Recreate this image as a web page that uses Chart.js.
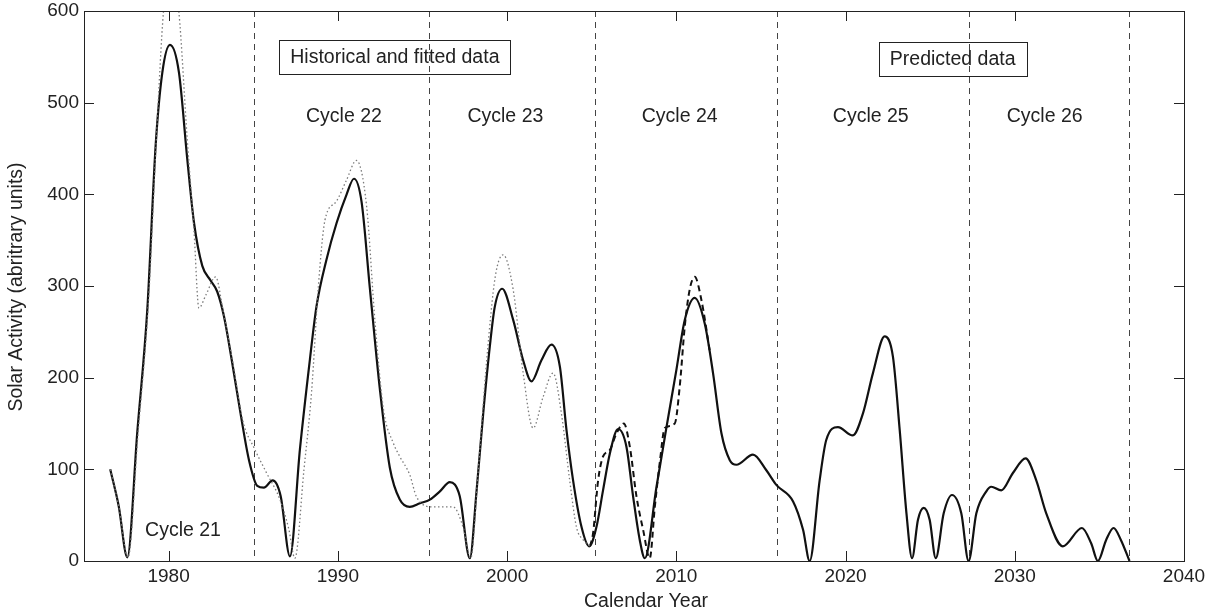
<!DOCTYPE html>
<html>
<head>
<meta charset="utf-8">
<script src="https://cdn.jsdelivr.net/npm/chart.js@4.4.0/dist/chart.umd.min.js"></script>
<style>
  html, body { margin: 0; padding: 0; background: #fff; }
  #wrap { width: 1209px; height: 612px; }
</style>
</head>
<body>
<div id="wrap"><canvas id="grafico" width="1209" height="612"></canvas></div>
<script>
// curva ajustada / predicha (linea continua)
const anioAjuste = [1976.55, 1977.05, 1977.56, 1978.15, 1978.74, 1979.24, 1979.63, 1980.08, 1980.61, 1981.1,
  1981.5, 1981.99, 1982.48, 1982.87, 1983.27, 1983.76, 1984.25, 1984.75, 1985.24, 1985.63,
  1986.15, 1986.62, 1987.17, 1987.76, 1988.35, 1988.74, 1989.33, 1989.93, 1990.52, 1990.95,
  1991.4, 1991.89, 1992.48, 1993.07, 1993.66, 1994.25, 1994.85, 1995.44, 1996.03, 1996.62,
  1997.2, 1997.8, 1998.2, 1998.59, 1998.98, 1999.27, 1999.71, 2000.36, 2000.95, 2001.44,
  2002.03, 2002.62, 2003.12, 2003.51, 2003.9, 2004.4, 2004.85, 2005.28, 2005.67, 2006.07,
  2006.56, 2007.05, 2007.45, 2007.84, 2008.14, 2008.83, 2009.42, 2010.0, 2010.5, 2011.09,
  2011.68, 2012.17, 2012.67, 2013.16, 2013.55, 2014.53, 2015.32, 2015.91, 2016.9, 2017.49,
  2017.88, 2018.47, 2018.86, 2019.55, 2020.43, 2021.03, 2021.62, 2022.31, 2022.8, 2023.2,
  2023.6, 2023.93, 2024.28, 2024.62, 2024.97, 2025.33, 2025.8, 2026.29, 2026.84, 2027.27,
  2027.73, 2028.32, 2028.61, 2029.2, 2029.89, 2030.64, 2031.27, 2031.86, 2032.84, 2033.97,
  2034.52, 2034.91, 2035.4, 2035.84, 2036.27, 2036.78];
const valorAjuste = [100, 60, 4, 141, 274, 455, 533, 563, 533, 439,
  369, 322, 306, 294, 267, 216, 161, 110, 82, 80,
  88, 71, 5, 122, 220, 278, 329, 369, 400, 417,
  392, 298, 188, 102, 67, 59, 63, 67, 76, 86,
  71, 3, 77, 161, 234, 277, 297, 263, 219, 196,
  219, 236, 212, 143, 88, 37, 16, 37, 77, 117,
  144, 125, 70, 23, 3, 81, 146, 208, 263, 287,
  259, 205, 139, 110, 105, 116, 99, 83, 65, 34,
  0, 88, 132, 146, 137, 161, 205, 245, 223, 143,
  52, 3, 45, 58, 45, 3, 52, 72, 52, 0,
  52, 76, 81, 77, 96, 112, 88, 52, 16, 36,
  19, 0, 23, 36, 23, 0];

// datos historicos (linea punteada)
const anioHistorico = [1976.55, 1977.05, 1977.6, 1978.2, 1978.8, 1979.3, 1979.7, 1980.1, 1980.6, 1981.1,
  1981.5, 1981.79, 1982.2, 1982.78, 1983.2, 1983.76, 1984.4, 1985.06, 1985.79, 1986.58,
  1987.1, 1987.46, 1988.0, 1988.45, 1988.85, 1989.24, 1989.9, 1990.5, 1991.1, 1991.7,
  1992.2, 1992.7, 1993.27, 1993.66, 1994.25, 1994.65, 1995.63, 1996.81, 1997.4, 1997.85,
  1998.3, 1998.8, 1999.3, 1999.77, 2000.36, 2000.95, 2001.54, 2002.13, 2002.72, 2003.21,
  2003.7, 2004.1, 2004.5, 2004.9];
const valorHistorico = [100, 60, 4, 141, 280, 470, 600, 650, 600, 460,
  360, 276, 290, 310, 275, 220, 152, 123, 96, 67,
  35, 3, 100, 185, 300, 372, 392, 415, 437, 387,
  260, 165, 129, 114, 94, 70, 59, 59, 37, 3,
  100, 220, 310, 334, 296, 205, 145, 179, 205, 161,
  88, 37, 23, 16];

// ciclo 24 observado (linea discontinua)
const anioCiclo24 = [2004.9, 2005.08, 2005.38, 2005.67, 2006.07, 2006.46, 2006.9, 2007.25, 2007.65, 2008.04,
  2008.43, 2008.73, 2009.02, 2009.32, 2009.91, 2010.2, 2010.5, 2010.79, 2011.09, 2011.48, 2011.97];
const valorCiclo24 = [16, 30, 88, 114, 121, 139, 150, 125, 70, 34,
  3, 59, 107, 145, 150, 190, 256, 296, 310, 285, 230];

const ticksX = [1980, 1990, 2000, 2010, 2020, 2030, 2040];
const ticksY = [0, 100, 200, 300, 400, 500, 600];
const limitesCiclo = [1985.05, 1995.4, 2005.2, 2015.95, 2027.27, 2036.77];
const nombresCiclo = ['Cycle 21', 'Cycle 22', 'Cycle 23', 'Cycle 24', 'Cycle 25', 'Cycle 26'];
const anioNombre = [1980.85, 1990.36, 1999.9, 2010.2, 2021.49, 2031.77];
const valorNombre = [33, 485, 485, 485, 485, 485];
const cajas = [
  { texto: 'Historical and fitted data', x: 1993.37, y: 549.8 },
  { texto: 'Predicted data', x: 2026.33, y: 547.6 }
];

const FUENTE = '"Liberation Sans", Arial, Helvetica, sans-serif';
const aPuntos = (xs, ys) => xs.map((v, i) => ({ x: v, y: ys[i] }));

const decoracion = {
  id: 'decoracion',
  beforeDatasetsDraw(chart) {
    const { ctx, chartArea: a, scales: { x } } = chart;
    ctx.save();
    ctx.strokeStyle = '#444';
    ctx.lineWidth = 1;
    ctx.setLineDash([6, 5]);
    limitesCiclo.forEach(anio => {
      const px = Math.round(x.getPixelForValue(anio)) + 0.5;
      ctx.beginPath();
      ctx.moveTo(px, a.top);
      ctx.lineTo(px, a.bottom);
      ctx.stroke();
    });
    ctx.restore();
  },
  afterDraw(chart) {
    const { ctx, chartArea: a, scales: { x, y } } = chart;
    ctx.save();
    // marco y ticks hacia adentro
    ctx.strokeStyle = '#222';
    ctx.lineWidth = 1;
    ctx.strokeRect(Math.round(a.left) + 0.5, Math.round(a.top) + 0.5,
      Math.round(a.right - a.left), Math.round(a.bottom - a.top));
    ctx.beginPath();
    ticksX.forEach(v => {
      const px = Math.round(x.getPixelForValue(v)) + 0.5;
      ctx.moveTo(px, a.bottom); ctx.lineTo(px, a.bottom - 10);
      ctx.moveTo(px, a.top); ctx.lineTo(px, a.top + 10);
    });
    ticksY.forEach(v => {
      const py = Math.round(y.getPixelForValue(v)) + 0.5;
      ctx.moveTo(a.left, py); ctx.lineTo(a.left + 10, py);
      ctx.moveTo(a.right, py); ctx.lineTo(a.right - 10, py);
    });
    ctx.stroke();

    // nombres de ciclo
    ctx.fillStyle = '#222';
    ctx.font = '19.5px ' + FUENTE;
    ctx.textAlign = 'center';
    ctx.textBaseline = 'middle';
    nombresCiclo.forEach((t, i) => {
      ctx.fillText(t, x.getPixelForValue(anioNombre[i]), y.getPixelForValue(valorNombre[i]));
    });

    // cajas de texto
    cajas.forEach(c => {
      const cx = x.getPixelForValue(c.x);
      const cy = y.getPixelForValue(c.y);
      const w = ctx.measureText(c.texto).width + 22;
      const h = 34;
      ctx.strokeRect(Math.round(cx - w / 2) + 0.5, Math.round(cy - h / 2) + 0.5, Math.round(w), h);
      ctx.fillText(c.texto, cx, cy + 1);
    });

    // titulos de ejes
    ctx.fillText('Calendar Year', 646, 602);
    ctx.translate(17, 287);
    ctx.rotate(-Math.PI / 2);
    ctx.fillText('Solar Activity (abritrary units)', 0, 0);
    ctx.restore();
  }
};

new Chart(document.getElementById('grafico'), {
  type: 'line',
  data: {
    datasets: [
      {
        label: 'Historical',
        data: aPuntos(anioHistorico, valorHistorico),
        borderColor: '#7a7a7a',
        borderWidth: 1.3,
        borderDash: [1.5, 2.5],
        pointRadius: 0,
        cubicInterpolationMode: 'monotone'
      },
      {
        label: 'Cycle 24 observed',
        data: aPuntos(anioCiclo24, valorCiclo24),
        borderColor: '#111',
        borderWidth: 2,
        borderDash: [6, 4],
        pointRadius: 0,
        cubicInterpolationMode: 'monotone'
      },
      {
        label: 'Fitted / predicted',
        data: aPuntos(anioAjuste, valorAjuste),
        borderColor: '#111',
        borderWidth: 2.2,
        pointRadius: 0,
        cubicInterpolationMode: 'monotone'
      }
    ]
  },
  options: {
    responsive: false,
    animation: false,
    events: [],
    layout: { padding: { top: 11, right: 25, left: 0, bottom: 0 } },
    plugins: { legend: { display: false }, tooltip: { enabled: false } },
    scales: {
      x: {
        type: 'linear',
        min: 1975,
        max: 2040,
        grid: { display: false, drawTicks: false },
        border: { display: false },
        afterBuildTicks: s => { s.ticks = ticksX.map(v => ({ value: v })); },
        afterFit: s => { s.height = 51; s.paddingLeft = 0; s.paddingRight = 0; },
        ticks: {
          color: '#222', font: { family: FUENTE, size: 19 }, padding: 4,
          maxRotation: 0, autoSkip: false, callback: v => String(v)
        }
      },
      y: {
        min: 0,
        max: 600,
        grid: { display: false, drawTicks: false },
        border: { display: false },
        afterBuildTicks: s => { s.ticks = ticksY.map(v => ({ value: v })); },
        afterFit: s => { s.width = 84; s.paddingTop = 0; s.paddingBottom = 0; },
        ticks: { color: '#222', font: { family: FUENTE, size: 19 }, padding: 5, callback: v => String(v) }
      }
    }
  },
  plugins: [decoracion]
});
</script>
</body>
</html>
